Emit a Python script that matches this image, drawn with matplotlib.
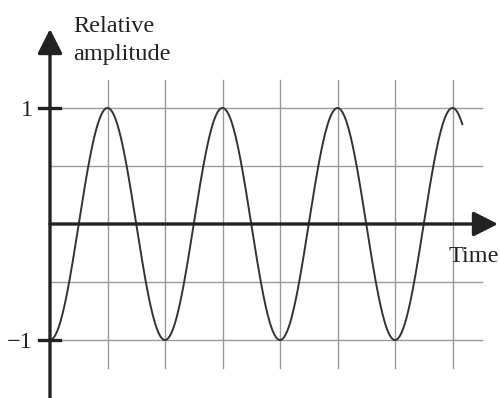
import numpy as np
import matplotlib
matplotlib.use("Agg")
import matplotlib.pyplot as plt

# wave parameters (grid units on the time axis)
amplitude = 1.0
period = 2.0
t_end = 7.17
grid_x = [1, 2, 3, 4, 5, 6, 7]
grid_y = [-1.0, -0.5, 0.5, 1.0]
y_ticks = [1, -1]
y_tick_labels = ["1", "\u22121"]
y_label_lines = ["Relative", "amplitude"]
x_label = "Time"

# curve: starts at -1, peaks every period
t = np.linspace(0, t_end, 600)
amp = -amplitude * np.cos(2 * np.pi * t / period)

# 57.5 px per time unit, 116 px per amplitude unit
px, py = 57.5, 116.0

fig = plt.figure(figsize=(5.0, 3.98), dpi=100)
ax = fig.add_axes([0, 0, 1, 1])
ax.set_xlim(-50 / px, 450 / px)
ax.set_ylim(-174 / py, 224 / py)
ax.axis("off")

serif = ["Liberation Serif", "DejaVu Serif"]
grid_col = "#9a9a9a"
ink = "#222222"
fs = 17.5

# grid
for gx in grid_x:
    ax.plot([gx, gx], [-1.24, 1.24], color=grid_col, lw=1.0, zorder=1)
for gy in grid_y:
    ax.plot([0, 7.51], [gy, gy], color=grid_col, lw=1.0, zorder=1)

# the wave
ax.plot(t, amp, color="#333333", lw=1.4, zorder=3)

# axes with arrows
arrow = dict(arrowstyle="-|>,head_length=0.75,head_width=0.38", color=ink,
             lw=2.4, mutation_scale=20, shrinkA=0, shrinkB=0)
ax.annotate("", xy=(448 / px, 0), xytext=(0, 0), arrowprops=arrow, zorder=4)
ax.annotate("", xy=(0, 195 / py), xytext=(0, -174 / py), arrowprops=arrow, zorder=4)

# y ticks
for yt, lab in zip(y_ticks, y_tick_labels):
    ax.plot([-11 / px, 10 / px], [yt, yt], color=ink, lw=2.4, zorder=4)
    ax.text(-17 / px, yt, lab, ha="right", va="center_baseline", fontsize=fs,
            family=serif, color=ink)

# axis titles
ax.text(23 / px, 192 / py, y_label_lines[0], ha="left", va="baseline",
        fontsize=fs, family=serif, color=ink)
ax.text(23 / px, 164 / py, y_label_lines[1], ha="left", va="baseline",
        fontsize=fs, family=serif, color=ink)
ax.text(399 / px, -38 / py, x_label, ha="left", va="baseline",
        fontsize=fs, family=serif, color=ink)

fig.savefig("out.png", dpi=100)
